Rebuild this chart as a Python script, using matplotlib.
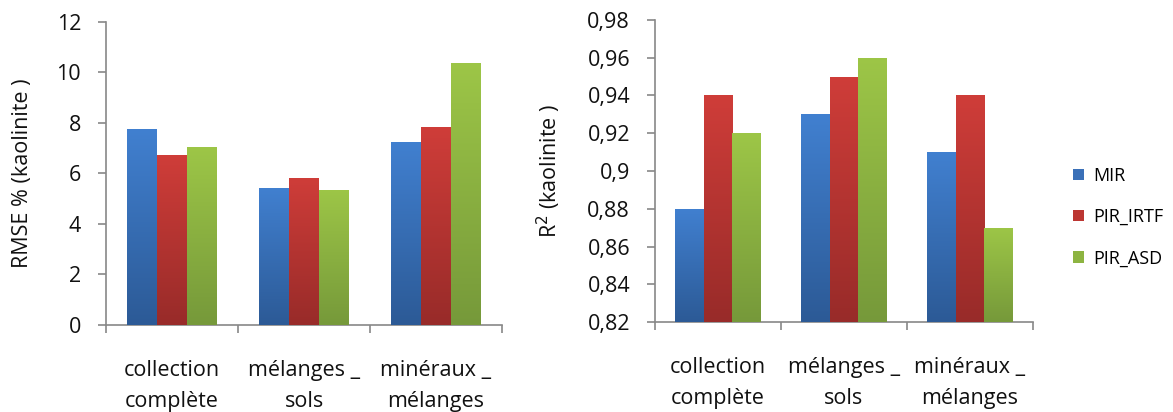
import numpy as np
import matplotlib
matplotlib.use("Agg")
import matplotlib.pyplot as plt
from matplotlib.colors import LinearSegmentedColormap
from matplotlib.patches import Patch

categories = ["collection\ncomplète", "mélanges _\nsols", "minéraux _\nmélanges"]
series = ["MIR", "PIR_IRTF", "PIR_ASD"]
rmse_mir = [7.75, 5.44, 7.25]
rmse_irtf = [6.72, 5.84, 7.84]
rmse_asd = [7.04, 5.36, 10.38]
r2_mir = [0.88, 0.93, 0.91]
r2_irtf = [0.94, 0.95, 0.94]
r2_asd = [0.92, 0.96, 0.87]

top_cols = ["#4180d0", "#cf3d39", "#9dc647"]
bot_cols = ["#2c5a96", "#982b29", "#76993a"]
mid_cols = ["#3a70b8", "#bc3632", "#8db441"]

plt.rcParams['font.family'] = ['Open Sans', 'DejaVu Sans']
fig = plt.figure(figsize=(11.73, 4.12), dpi=100)

axL = fig.add_axes([0.0904, 0.2112, 0.3376, 0.7354])
axR = fig.add_axes([0.5584, 0.2184, 0.3222, 0.7331])

def draw(ax, data, ylim, yticks, ylabels, ylabel, lab_x):
    x = np.arange(len(categories))
    w = 0.225
    for i, vals in enumerate(data):
        bars = ax.bar(x + (i - 1) * w, vals, w, bottom=0, color=mid_cols[i], zorder=2)
        cmap = LinearSegmentedColormap.from_list("g%d" % i, [bot_cols[i], top_cols[i]])
        for b in bars:
            x0, y0 = b.get_x(), ylim[0]
            x1, y1 = x0 + b.get_width(), b.get_height()
            grad = np.linspace(0, 1, 256).reshape(-1, 1)
            im = ax.imshow(grad, cmap=cmap, origin="lower", aspect="auto",
                           extent=[x0, x1, y0, y1], zorder=3)
            im.set_clip_path(b)
    ax.set_xlim(-0.5, 2.5)
    ax.set_ylim(*ylim)
    ax.set_yticks(yticks)
    ax.set_yticklabels(ylabels)
    ax.set_xticks(x)
    ax.set_xticklabels(categories, fontsize=15.5, linespacing=1.62, color="#111111")
    ax.set_xticks([-0.5, 0.5, 1.5, 2.5], minor=True)
    ax.tick_params(axis="x", which="major", length=0, pad=25)
    ax.tick_params(axis="x", which="minor", length=6, color="#888888", width=1.2)
    ax.tick_params(axis="y", length=6, color="#888888", width=1.2, labelsize=15.5,
                   labelcolor="#111111", pad=12)
    for s in ["top", "right"]:
        ax.spines[s].set_visible(False)
    for s in ["left", "bottom"]:
        ax.spines[s].set_color("#888888")
        ax.spines[s].set_linewidth(1.2)
    ax.set_ylabel(ylabel, fontsize=15.5, color="#111111")
    ax.yaxis.set_label_coords(lab_x, 0.5)

draw(axL, [rmse_mir, rmse_irtf, rmse_asd], (0, 12), [0, 2, 4, 6, 8, 10, 12],
     ["0", "2", "4", "6", "8", "10", "12"], "RMSE % (kaolinite )", -0.184)
r2ticks = [0.82, 0.84, 0.86, 0.88, 0.90, 0.92, 0.94, 0.96, 0.98]
r2labels = ["0,82", "0,84", "0,86", "0,88", "0,9", "0,92", "0,94", "0,96", "0,98"]
draw(axR, [r2_mir, r2_irtf, r2_asd], (0.82, 0.98), r2ticks, r2labels,
     "R$^2$ (kaolinite )", -0.243)

handles = [Patch(facecolor=mid_cols[i], edgecolor="none") for i in range(3)]
fig.legend(handles, series, loc="center left", bbox_to_anchor=(0.9147, 0.473),
           frameon=False, fontsize=13, handlelength=0.6, handleheight=0.6,
           labelspacing=1.3, handletextpad=0.5, borderpad=0, borderaxespad=0)

fig.savefig("out.png", dpi=100)
